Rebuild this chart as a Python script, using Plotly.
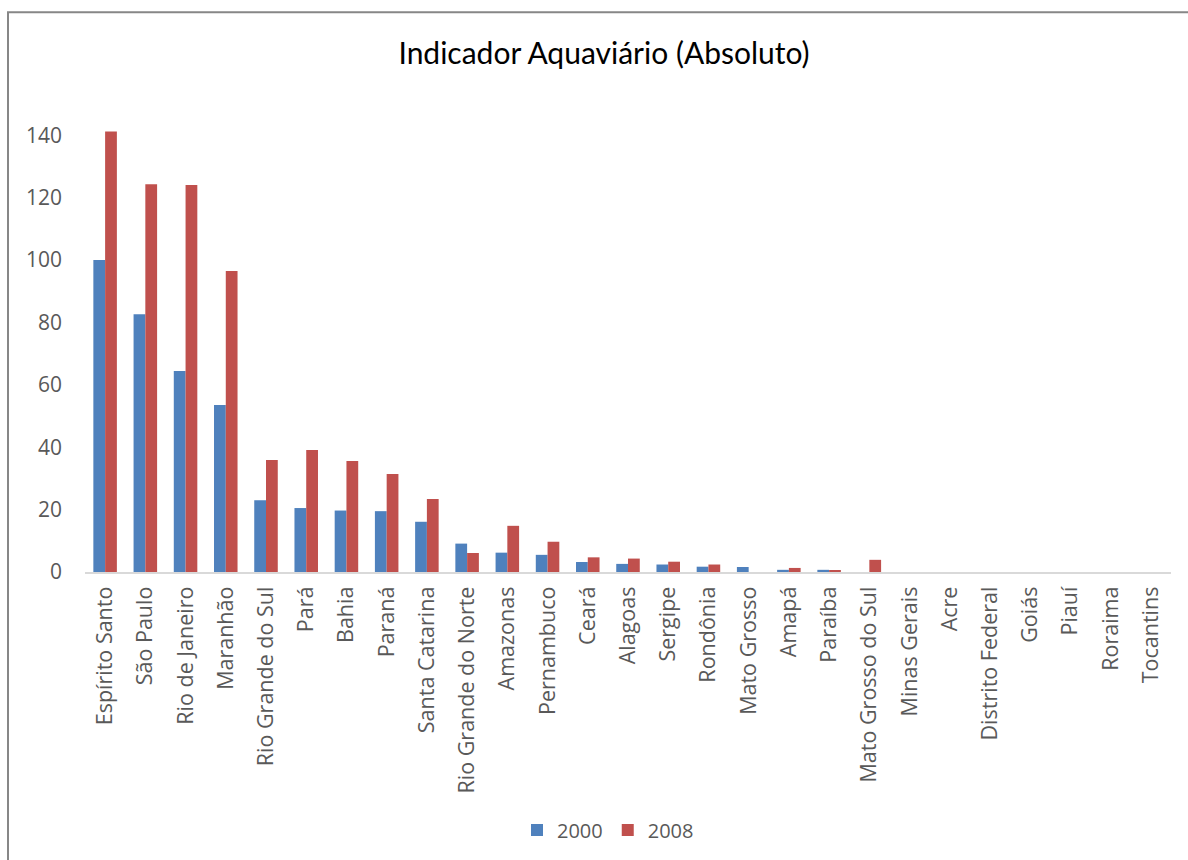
import plotly.graph_objects as go

categories = ["Espírito Santo", "São Paulo", "Rio de Janeiro", "Maranhão", "Rio Grande do Sul",
              "Pará", "Bahia", "Paraná", "Santa Catarina", "Rio Grande do Norte", "Amazonas",
              "Pernambuco", "Ceará", "Alagoas", "Sergipe", "Rondônia", "Mato Grosso", "Amapá",
              "Paraíba", "Mato Grosso do Sul", "Minas Gerais", "Acre", "Distrito Federal",
              "Goiás", "Piauí", "Roraima", "Tocantins"]
v2000 = [100, 82.6, 64.4, 53.5, 23.0, 20.5, 19.7, 19.5, 16.1, 9.1, 6.2, 5.5, 3.2, 2.6, 2.4,
         1.7, 1.6, 0.7, 0.7, 0, 0, 0, 0, 0, 0, 0, 0]
v2008 = [141.2, 124.3, 124.0, 96.5, 35.9, 39.1, 35.6, 31.4, 23.4, 6.1, 14.8, 9.7, 4.7, 4.3, 3.3,
         2.4, 0, 1.3, 0.6, 3.9, 0, 0, 0, 0, 0, 0, 0]
y_ticks = [0, 20, 40, 60, 80, 100, 120, 140]

W, H = 1188, 860
L, R, T, B = 85, 17, 104, 287
pw, ph = W - L - R, H - T - B

def px_x(x):
    return (x - L) / pw

def px_y(y):
    return (H - B - y) / ph

fig = go.Figure()
fig.add_trace(go.Bar(x=categories, y=v2000, name="2000", marker=dict(color="#4f81bd", line=dict(width=0))))
fig.add_trace(go.Bar(x=categories, y=v2008, name="2008", marker=dict(color="#c0504d", line=dict(width=0))))

fig.update_layout(
    width=W, height=H,
    margin=dict(l=L, r=R, t=T, b=B),
    paper_bgcolor="white", plot_bgcolor="white",
    barmode="group", bargap=0.415, bargroupgap=0,
    title=dict(text="Indicador Aquaviário (Absoluto)", x=604 / W, xanchor="center",
               xref="container", yref="container", y=1 - 53 / H, yanchor="middle",
               font=dict(family="Lato", size=30, color="#000000")),
    font=dict(family="Open Sans", color="#595959"),
    xaxis=dict(tickangle=-90, tickfont=dict(family="Open Sans", size=21.5, color="#595959"),
               showline=True, linecolor="#d9d9d9", linewidth=2, showgrid=False,
               ticks="", ticklabelstandoff=4, fixedrange=True),
    yaxis=dict(range=[0, 150], tickvals=y_ticks, showgrid=False, zeroline=False,
               showline=False, tickfont=dict(family="Open Sans", size=21, color="#595959"),
               ticks="", ticklabelstandoff=22),
    legend=dict(orientation="h", x=px_x(608), xanchor="center", y=px_y(830), yanchor="middle",
                font=dict(family="Open Sans", size=20, color="#595959"),
                itemwidth=30, traceorder="normal"),
    showlegend=True,
    shapes=[dict(type="rect", xref="paper", yref="paper",
                 x0=px_x(8), x1=px_x(1205), y0=px_y(880), y1=px_y(12),
                 line=dict(color="#878787", width=2), fillcolor="rgba(0,0,0,0)", layer="below")],
)

fig.write_html("out.html")
